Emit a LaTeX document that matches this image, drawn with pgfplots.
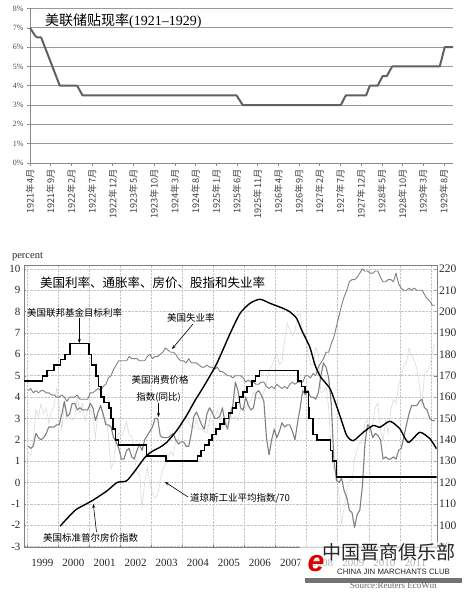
\documentclass[border=0pt]{standalone}
\usepackage{pgfplots}
\pgfplotsset{compat=1.18}
\usepackage{fontspec}
\setmainfont{Liberation Serif}
\newfontfamily\cjk{Noto Sans CJK SC}
\newfontfamily\wmsans{Liberation Sans}
\usetikzlibrary{arrows.meta}

% common frame of the lower chart (x = months since Jan 1999, mid-month)
\pgfplotsset{lowerframe/.style={
  at={(24pt,46.3pt)}, anchor=south west, scale only axis,
  width=412.7pt, height=282pt, xmin=-1.58, xmax=157.7}}

\begin{document}
\begin{tikzpicture}[x=1pt,y=1pt]
\useasboundingbox (0pt,0pt) rectangle (471pt,594pt);

% ---------------- upper chart: discount rate 1921-1929 ----------------
\begin{axis}[
  at={(30pt,431pt)}, anchor=south west, scale only axis,
  width=423pt, height=154.5pt,
  xmin=0, xmax=102.2, ymin=0, ymax=8,
  axis x line*=bottom, axis y line*=left,
  axis line style={black!45, line width=0.8pt},
  every tick/.style={black!45, line width=0.6pt},
  tick align=outside, major tick length=3pt,
  /pgf/number format/assume math mode=true,
  ytick={0,...,8},
  yticklabel={\pgfmathprintnumber{\tick}\%},
  yticklabel style={font=\fontsize{8}{8}\selectfont, text=black!70},
  ymajorgrids, grid style={black!40, line width=0.7pt},
  xtick={0,5,...,100},
  xticklabels={1921年4月,1921年9月,1922年2月,1922年7月,1922年12月,1923年5月,1923年10月,1924年3月,1924年8月,1925年1月,1925年6月,1925年11月,1926年4月,1926年9月,1927年2月,1927年7月,1927年12月,1928年5月,1928年10月,1929年3月,1929年8月},
  xticklabel style={rotate=90, anchor=east, font=\cjk\fontsize{9.2}{9.5}\selectfont, text=black!75},
  clip=false,
]
\addplot[black!62, line width=2pt, line join=round] coordinates {
 (0,7)(1.2,6.6)(1.7,6.5)(2.7,6.5)(7.2,4)(11.4,4)(12.7,3.5)(49.9,3.5)(51.4,3)
 (75.1,3)(76.3,3.5)(81.2,3.5)(82.1,4)(84,4)(85.2,4.5)(86.2,4.5)(87.5,5)(99,5)
 (100.2,6)(102.2,6)};
\end{axis}
\node[anchor=west, inner sep=0, font=\fontsize{14}{14}\selectfont] at (45pt,573pt)
  {{\cjk 美联储贴现率}(1921–1929)};

% ---------------- lower chart, right scale: Dow Jones / 70 ----------------
\begin{axis}[
  lowerframe, ymin=89.5, ymax=221.5,
  axis y line*=right, axis x line=none,
  axis line style={black!50},
  ytick={90,100,...,220},
  /pgf/number format/assume math mode=true,
  yticklabel style={font=\fontsize{11.5}{11.5}\selectfont, text=black!85, xshift=-1pt},
  tick align=inside, major tick length=2.5pt,
  every tick/.style={black!50},
]
\addplot[black!14, line width=0.6pt] coordinates {
 (0,133.7)(1,133.0)(2,139.8)(3,154.1)(4,150.9)(5,156.7)(6,152.2)(7,154.7)(8,147.7)(9,153.3)(10,155.4)(11,164.2)
 (12,156.3)(13,144.7)(14,156.0)(15,153.3)(16,150.3)(17,149.3)(18,150.3)(19,160.2)(20,152.2)(21,156.7)(22,148.8)(23,154.1)
 (24,155.5)(25,149.9)(26,141.1)(27,153.4)(28,155.9)(29,150.0)(30,150.3)(31,142.1)(32,126.4)(33,129.6)(34,140.7)(35,143.2)
 (36,141.7)(37,144.4)(38,148.6)(39,142.1)(40,141.8)(41,132.0)(42,124.8)(43,123.8)(44,108.5)(45,120.0)(46,127.1)(47,119.2)
 (48,115.1)(49,112.7)(50,114.2)(51,121.1)(52,126.4)(53,128.4)(54,131.9)(55,134.5)(56,132.5)(57,140.0)(58,139.7)(59,149.3)
 (60,149.8)(61,151.2)(62,148.0)(63,146.1)(64,145.5)(65,149.1)(66,144.9)(67,145.3)(68,144.0)(69,143.2)(70,149.0)(71,154.0)
 (72,149.9)(73,153.8)(74,150.1)(75,145.6)(76,149.5)(77,146.8)(78,152.0)(79,149.7)(80,151.0)(81,149.1)(82,154.4)(83,153.1)
 (84,155.2)(85,157.0)(86,158.7)(87,162.4)(88,159.5)(89,159.3)(90,159.8)(91,162.6)(92,166.8)(93,172.6)(94,174.6)(95,178.0)
 (96,180.3)(97,175.3)(98,176.5)(99,186.6)(100,194.7)(101,191.6)(102,188.7)(103,190.8)(104,198.5)(105,199.0)(106,191.0)(107,189.5)
 (108,180.7)(109,175.2)(110,175.2)(111,183.1)(112,180.5)(113,162.1)(114,162.5)(115,164.9)(116,155.0)(117,133.2)(118,126.1)(119,125.4)
 (120,114.3)(121,100.9)(122,108.7)(123,116.7)(124,121.4)(125,120.7)(126,131.0)(127,135.7)(128,138.7)(129,138.8)(130,147.8)(131,149.0)
 (132,143.8)(133,147.5)(134,155.1)(135,157.3)(136,144.8)(137,139.6)(138,149.5)(139,143.1)(140,154.1)(141,158.8)(142,157.2)(143,165.4)
 (144,169.9)(145,174.7)(146,176.0)(147,183.0)(148,179.6)(149,177.3)(150,173.5)(151,165.9)(152,155.9)(153,170.8)(154,172.1)(155,174.5)
 (156,180.5)(157,185.0)};
\end{axis}

% ---------------- lower chart, left scale: percent ----------------
\begin{axis}[
  lowerframe, ymin=-3.05, ymax=10.15,
  axis line style={black!50},
  /pgf/number format/assume math mode=true,
  ytick={-3,...,10},
  yticklabel style={font=\fontsize{11}{11}\selectfont, text=black!85},
  ymajorgrids, minor x tick num=0,
  xtick={5.5,17.5,...,149.5},
  xticklabels={1999,2000,2001,2002,2003,2004,2005,2006,2007,2008,2009,2010,2011},
  xticklabel style={font=\fontsize{11}{11}\selectfont, text=black!85, yshift=-8pt},
  minor xtick={-0.5,11.5,...,155.5},
  xminorgrids,
  grid style={black!22, densely dotted, line width=0.5pt},
  major x tick style={draw=none},
  tick align=inside, major tick length=2.5pt, minor tick length=2.5pt,
  every tick/.style={black!50},
  ytick pos=left, xtick pos=bottom,
]
% unemployment rate
\addplot[black!50, line width=0.9pt, line join=round] coordinates {
 (0,4.3)(1,4.4)(2,4.2)(3,4.3)(4,4.2)(5,4.3)(6,4.3)(7,4.2)(8,4.2)(9,4.1)(10,4.1)(11,4.0)
 (12,4.0)(13,4.1)(14,4.0)(15,3.8)(16,4.0)(17,4.0)(18,4.0)(19,4.1)(20,3.9)(21,3.9)(22,3.9)(23,3.9)
 (24,4.2)(25,4.2)(26,4.3)(27,4.4)(28,4.3)(29,4.5)(30,4.6)(31,4.9)(32,5.0)(33,5.3)(34,5.5)(35,5.7)
 (36,5.7)(37,5.7)(38,5.7)(39,5.9)(40,5.8)(41,5.8)(42,5.8)(43,5.7)(44,5.7)(45,5.7)(46,5.9)(47,6.0)
 (48,5.8)(49,5.9)(50,5.9)(51,6.0)(52,6.1)(53,6.3)(54,6.2)(55,6.1)(56,6.1)(57,6.0)(58,5.8)(59,5.7)
 (60,5.7)(61,5.6)(62,5.8)(63,5.6)(64,5.6)(65,5.6)(66,5.5)(67,5.4)(68,5.4)(69,5.5)(70,5.4)(71,5.4)
 (72,5.3)(73,5.4)(74,5.2)(75,5.2)(76,5.1)(77,5.0)(78,5.0)(79,4.9)(80,5.0)(81,5.0)(82,5.0)(83,4.9)
 (84,4.7)(85,4.8)(86,4.7)(87,4.7)(88,4.6)(89,4.6)(90,4.7)(91,4.7)(92,4.5)(93,4.4)(94,4.5)(95,4.4)
 (96,4.6)(97,4.5)(98,4.4)(99,4.5)(100,4.4)(101,4.6)(102,4.7)(103,4.6)(104,4.7)(105,4.7)(106,4.7)(107,5.0)
 (108,5.0)(109,4.9)(110,5.1)(111,5.0)(112,5.4)(113,5.6)(114,5.8)(115,6.1)(116,6.1)(117,6.5)(118,6.8)(119,7.3)
 (120,7.8)(121,8.3)(122,8.7)(123,9.0)(124,9.4)(125,9.5)(126,9.5)(127,9.6)(128,9.8)(129,10.0)(130,9.9)(131,9.9)
 (132,9.8)(133,9.8)(134,9.9)(135,9.9)(136,9.6)(137,9.4)(138,9.4)(139,9.5)(140,9.5)(141,9.4)(142,9.8)(143,9.3)
 (144,9.1)(145,9.0)(146,9.0)(147,9.1)(148,9.0)(149,9.1)(150,9.0)(151,9.0)(152,9.0)(153,8.8)(154,8.6)(155,8.5)
 (156,8.3)(157,8.3)};
% consumer price index, year on year
\addplot[black!50, line width=1.1pt, line join=round] coordinates {
 (0,1.7)(1,1.6)(2,1.7)(3,2.3)(4,2.1)(5,2.0)(6,2.1)(7,2.3)(8,2.6)(9,2.6)(10,2.6)(11,2.7)
 (12,2.7)(13,3.2)(14,3.8)(15,3.1)(16,3.2)(17,3.7)(18,3.7)(19,3.4)(20,3.5)(21,3.4)(22,3.4)(23,3.4)
 (24,3.7)(25,3.5)(26,2.9)(27,3.3)(28,3.6)(29,3.2)(30,2.7)(31,2.7)(32,2.6)(33,2.1)(34,1.9)(35,1.6)
 (36,1.1)(37,1.1)(38,1.5)(39,1.6)(40,1.2)(41,1.1)(42,1.5)(43,1.8)(44,1.5)(45,2.0)(46,2.2)(47,2.4)
 (48,2.6)(49,3.0)(50,3.0)(51,2.2)(52,2.1)(53,2.1)(54,2.1)(55,2.2)(56,2.3)(57,2.0)(58,1.8)(59,1.9)
 (60,1.9)(61,1.7)(62,1.7)(63,2.3)(64,3.1)(65,3.3)(66,3.0)(67,2.7)(68,2.5)(69,3.2)(70,3.5)(71,3.3)
 (72,3.0)(73,3.0)(74,3.1)(75,3.5)(76,2.8)(77,2.5)(78,3.2)(79,3.6)(80,4.7)(81,4.3)(82,3.5)(83,3.4)
 (84,4.0)(85,3.6)(86,3.4)(87,3.5)(88,4.2)(89,4.3)(90,4.1)(91,3.8)(92,2.1)(93,1.3)(94,2.0)(95,2.5)
 (96,2.1)(97,2.4)(98,2.8)(99,2.6)(100,2.7)(101,2.7)(102,2.4)(103,2.0)(104,2.8)(105,3.5)(106,4.3)(107,4.1)
 (108,4.3)(109,4.0)(110,4.0)(111,3.9)(112,4.2)(113,5.0)(114,5.6)(115,5.4)(116,4.9)(117,3.7)(118,1.1)(119,0.1)
 (120,0.0)(121,0.2)(122,-0.4)(123,-0.7)(124,-1.3)(125,-1.4)(126,-2.1)(127,-1.5)(128,-1.3)(129,-0.2)(130,1.8)(131,2.7)
 (132,2.6)(133,2.1)(134,2.3)(135,2.2)(136,2.0)(137,1.1)(138,1.2)(139,1.1)(140,1.1)(141,1.2)(142,1.1)(143,1.5)
 (144,1.6)(145,2.1)(146,2.7)(147,3.2)(148,3.6)(149,3.6)(150,3.6)(151,3.8)(152,3.9)(153,3.5)(154,3.4)(155,3.0)
 (156,2.9)(157,2.9)};
% federal funds target rate
\addplot[black, line width=1.6pt, const plot] coordinates {
 (-1.58,4.75)(5.5,5.00)(7.3,5.25)(10.06,5.50)(12.58,5.75)(14.14,6.00)(16.06,6.50)
 (23.62,6.00)(24.46,5.50)(26.14,5.00)(27.1,4.50)(28.06,4.00)(29.38,3.75)(31.18,3.50)
 (32.02,3.00)(32.74,2.50)(33.7,2.00)(34.9,1.75)(45.7,1.25)(53.26,1.00)(65.38,1.25)
 (66.82,1.50)(68.14,1.75)(69.82,2.00)(71.02,2.25)(72.58,2.50)(74.14,2.75)(75.58,3.00)
 (77.38,3.25)(78.82,3.50)(80.14,3.75)(81.58,4.00)(82.9,4.25)(84.46,4.50)(86.38,4.75)
 (87.82,5.00)(89.38,5.25)(104.14,4.75)(105.46,4.50)(106.9,4.25)(108.22,3.50)(108.46,3.00)
 (110.02,2.25)(111.46,2.00)(116.74,1.50)(117.46,1.00)(119.02,0.25)(157.7,0.25)};
\end{axis}

% ---------------- lower chart, right scale: S&P house price index ----------------
\begin{axis}[lowerframe, ymin=89.5, ymax=221.5, hide axis]
\addplot[black, line width=1.4pt, line join=round, smooth, tension=0.4] coordinates {
 (12.34,99.6)(15.7,104)(18.7,107.5)(24.58,111.4)(30.34,116)(34.3,120)(38.02,120.8)
 (41.26,125.5)(45.1,131.8)(47.5,134.3)(50.86,136.5)(53.5,138.8)(57.34,144.3)(61.18,151.4)
 (64.42,158.4)(67.66,164.7)(72.82,175.7)(77.98,189.8)(81.82,199.2)(85.66,203.9)(89.5,205.8)
 (93.34,203.9)(98.5,201.5)(101.02,199.9)(103.66,196.8)(105.7,191)(108.7,183.5)(110.74,175)
 (112.9,169.4)(116.5,164)(119.14,155.5)(120.7,150)(122.98,142)(125.5,139.6)(129.34,143.5)
 (133.18,146.7)(135.82,145.9)(139.66,148.7)(143.5,145.1)(146.74,138.8)(151.18,143.5)
 (155.14,140.4)(157.66,135.7)};
\end{axis}

% ---------------- lower chart: titles and callouts ----------------
\node[font=\fontsize{10.5}{10.5}\selectfont, text=black!85] at (27.5pt,337pt) {percent};
\node[anchor=west, inner sep=0, font=\cjk\fontsize{12.5}{12.5}\selectfont] at (40pt,311pt)
  {美国利率、通胀率、房价、股指和失业率};

\begin{scope}[font=\cjk\fontsize{9.5}{9.5}\selectfont, every node/.style={inner sep=0}]
\node[anchor=west] at (27pt,281pt) {美国联邦基金目标利率};
\draw[-{Stealth[length=4pt,width=3pt]}, line width=0.6pt] (79.3pt,276pt) -- (79.3pt,251pt);

\node[anchor=west] at (167pt,276pt) {美国失业率};
\draw[-{Stealth[length=4pt,width=3pt]}, line width=0.6pt] (193pt,270pt) -- (172pt,245pt);

\node at (160pt,214pt) {美国消费价格};
\node at (158.5pt,197pt) {指数(同比)};
\draw[-{Stealth[length=4pt,width=3pt]}, line width=0.6pt] (158.5pt,191pt) -- (158.5pt,177pt);

\node[anchor=west] at (190pt,96pt) {道琼斯工业平均指数/70};
\draw[-{Stealth[length=4pt,width=3pt]}, line width=0.6pt] (188pt,97pt) -- (165pt,112pt);

\node[anchor=west] at (43pt,56pt) {美国标准普尔房价指数};
\draw[-{Stealth[length=4pt,width=3pt]}, line width=0.6pt] (96.5pt,62pt) -- (93.3pt,90pt);
\end{scope}

% ---------------- club mark and source ----------------
\fill[white, opacity=0.65] (300pt,14pt) rectangle (471pt,52pt);
\fill[black!55] (305pt,11pt) rectangle (462pt,16pt);
\node[text=red!85!black, font=\wmsans\itshape\bfseries\fontsize{30}{30}\selectfont, inner sep=0] at (316pt,30pt) {e};
\node[anchor=west, inner sep=0, font=\cjk\fontsize{19}{19}\selectfont, text=black!85] at (322pt,42pt) {中国晋商俱乐部};
\node[anchor=west, inner sep=0, font=\wmsans\fontsize{7.8}{7.8}\selectfont, text=black!85] at (337pt,22pt) {CHINA JIN MARCHANTS CLUB};
\node[anchor=west, inner sep=0, font=\fontsize{9}{9}\selectfont, text=black!60] at (350pt,8pt) {Source:Reuters EcoWin};
\end{tikzpicture}
\end{document}
